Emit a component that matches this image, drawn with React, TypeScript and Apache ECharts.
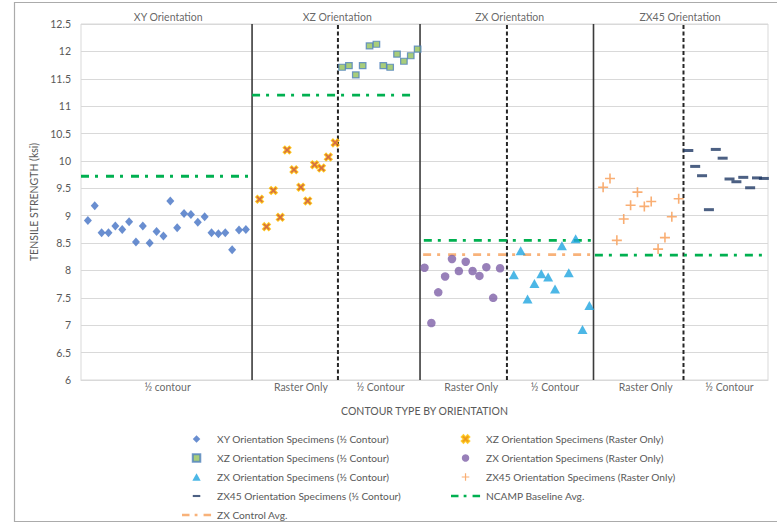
import React, { useEffect, useRef } from "react";
import * as echarts from "echarts";

// ---- data ----
const yMin = 6;
const yMax = 12.5;
const yStep = 0.5;
const xMin = 0;
const xMax = 100;

const xyContour = [8.91, 9.18, 8.69, 8.69, 8.81, 8.75, 8.89, 8.52, 8.81, 8.5, 8.71, 8.63, 9.27, 8.78, 9.04, 9.02, 8.88, 8.98, 8.69, 8.67, 8.69, 8.38, 8.74, 8.75];
const xzRaster = [9.3, 8.8, 9.46, 8.97, 10.2, 9.84, 9.52, 9.27, 9.93, 9.87, 10.07, 10.33];
const xzContour = [11.71, 11.74, 11.57, 11.74, 12.1, 12.13, 11.74, 11.71, 11.95, 11.82, 11.92, 12.04];
const zxRaster = [8.05, 7.04, 7.6, 7.89, 8.21, 7.99, 8.16, 7.99, 7.9, 8.06, 7.5, 8.04];
const zxContour = [7.92, 8.36, 7.48, 7.76, 7.94, 7.88, 7.66, 8.45, 7.96, 8.58, 6.92, 7.36];
const zx45Raster = [9.52, 9.68, 8.55, 8.94, 9.19, 9.43, 9.17, 9.26, 8.39, 8.6, 8.98, 9.31];
const zx45Contour = [10.19, 9.9, 9.73, 9.11, 10.21, 10.05, 9.67, 9.62, 9.7, 9.51, 9.69, 9.68];

// first specimen index of each group on the x scale
const xyStart = 1;
const xzRasterStart = 26;
const xzContourStart = 38;
const zxRasterStart = 50;
const zxContourStart = 63;
const zx45RasterStart = 76;
const zx45ContourStart = 88.4;

// averages: [xFrom, xTo, value]
const ncampSegments = [
  [0, 24.9, 9.72],
  [24.9, 48, 11.2],
  [49.9, 75, 8.55],
  [74.8, 100, 8.28],
];
const zxControlSegment = [49.8, 74.6, 8.29];

const solidDividers = [24.9, 49.35, 74.6];
const dashedDividers = [37.4, 62.0, 87.7];

const sectionTitles = ["XY Orientation", "XZ Orientation", "ZX Orientation", "ZX45 Orientation"];
const sectionTitleX = [12.7, 37.3, 62.4, 87.2];
const contourLabels = ["½ contour", "Raster Only", "½ Contour", "Raster Only", "½ Contour", "Raster Only", "½ Contour"];
const contourLabelX = [12.6, 32.0, 43.6, 56.8, 69.0, 82.2, 94.4];

const names = {
  xy: "XY Orientation Specimens (½ Contour)",
  xzR: "XZ Orientation Specimens (Raster Only)",
  xzC: "XZ Orientation Specimens (½ Contour)",
  zxR: "ZX Orientation Specimens (Raster Only)",
  zxC: "ZX Orientation Specimens (½ Contour)",
  zx45R: "ZX45 Orientation Specimens (Raster Only)",
  zx45C: "ZX45 Orientation Specimens (½ Contour)",
  ncamp: "NCAMP Baseline Avg.",
  ctrl: "ZX Control Avg.",
};

// ---- symbols ----
const DIAMOND = "path://M5,0 L10,5 L5,10 L0,5 Z";
const TRIANGLE = "path://M5,0 L10,9 L0,9 Z";
const SQUARE = "path://M0,0 H10 V10 H0 Z";
const XMARK = "path://M0,2.2 L2.2,0 L5,2.8 L7.8,0 L10,2.2 L7.2,5 L10,7.8 L7.8,10 L5,7.2 L2.2,10 L0,7.8 L2.8,5 Z";
const PLUS = "path://M4.2,0 H5.8 V4.2 H10 V5.8 H5.8 V10 H4.2 V5.8 H0 V4.2 H4.2 Z";
const DASH = "path://M0,0 H10 V3 H0 Z";
const DASH_ICON = "path://M0,0 M10,10 M0,3.6 H10 V6.4 H0 Z";
const DASHDOT_ICON = "path://M0,0 M31,8 M0,2.7 H8 V5.3 H0 Z M13.5,2.7 H16.5 V5.3 H13.5 Z M23,2.7 H31 V5.3 H23 Z";

const FONT = "Lato, 'Open Sans', sans-serif";
const GREEN = "#00B050";
const ORANGE = "#F8B27A";
const DASHDOT = [8, 6, 3, 8];

const seq = (vals: number[], start: number) => vals.map((v, i) => [start + i, v]);

export default function App() {
  const ref = useRef<HTMLDivElement>(null);
  useEffect(() => {
    if (!ref.current) return;
    const chart = echarts.init(ref.current, null, { renderer: "svg" });

    const scatter = (name: string, data: number[][], symbol: string, size: any, itemStyle: any) => ({
      type: "scatter",
      name,
      data,
      symbol,
      symbolSize: size,
      itemStyle,
      z: 5,
      silent: true,
    });

    const series: any[] = [];

    solidDividers.forEach((x) =>
      series.push({
        type: "line",
        data: [[x, yMin], [x, yMax]],
        symbol: "none",
        lineStyle: { color: "#3b3b3b", width: 1.6 },
        silent: true,
        z: 2,
      })
    );
    dashedDividers.forEach((x) =>
      series.push({
        type: "line",
        data: [[x, yMin], [x, yMax]],
        symbol: "none",
        lineStyle: { color: "#262626", width: 2, type: [4, 2.5] },
        silent: true,
        z: 2,
      })
    );

    ncampSegments.forEach((s) =>
      series.push({
        type: "line",
        name: names.ncamp,
        data: [[s[0], s[2]], [s[1], s[2]]],
        symbol: "none",
        lineStyle: { color: GREEN, width: 2.8, type: DASHDOT },
        itemStyle: { color: GREEN },
        silent: true,
        z: 3,
      })
    );
    series.push({
      type: "line",
      name: names.ctrl,
      data: [[zxControlSegment[0], zxControlSegment[2]], [zxControlSegment[1], zxControlSegment[2]]],
      symbol: "none",
      lineStyle: { color: ORANGE, width: 2.8, type: DASHDOT },
      itemStyle: { color: ORANGE },
      silent: true,
      z: 3,
    });

    series.push(scatter(names.xy, seq(xyContour, xyStart), DIAMOND, [8, 9], { color: "#4472C4" }));
    series.push(
      scatter(names.xzR, seq(xzRaster, xzRasterStart), XMARK, 8, {
        color: "#C8461E",
        borderColor: "#FFC000",
        borderWidth: 1.1,
      })
    );
    series.push(
      scatter(names.xzC, seq(xzContour, xzContourStart), SQUARE, [6.5, 6], {
        color: "#92C05A",
        borderColor: "#4F81BD",
        borderWidth: 1.2,
      })
    );
    series.push(scatter(names.zxR, seq(zxRaster, zxRasterStart), "circle", 8.5, { color: "#7E60A8" }));
    series.push(scatter(names.zxC, seq(zxContour, zxContourStart), TRIANGLE, [10, 9], { color: "#1FA5E0" }));
    series.push(scatter(names.zx45R, seq(zx45Raster, zx45RasterStart), PLUS, 10, { color: "#F79A50" }));
    series.push(scatter(names.zx45C, seq(zx45Contour, zx45ContourStart), DASH, [10, 3], { color: "#1F3864" }));

    // section titles above the plot
    series.push({
      type: "scatter",
      data: sectionTitleX.map((x, i) => ({ value: [x, yMax], name: sectionTitles[i] })),
      symbolSize: 1,
      itemStyle: { color: "rgba(0,0,0,0)" },
      clip: false,
      silent: true,
      label: {
        show: true,
        position: "top",
        distance: 1,
        formatter: (p: any) => p.name,
        color: "#404040",
        fontSize: 10.5,
        fontFamily: FONT,
      },
      z: 6,
    });
    // contour type labels below the plot
    series.push({
      type: "scatter",
      data: contourLabelX.map((x, i) => ({ value: [x, yMin], name: contourLabels[i] })),
      symbolSize: 1,
      itemStyle: { color: "rgba(0,0,0,0)" },
      clip: false,
      silent: true,
      label: {
        show: true,
        position: "bottom",
        distance: 1,
        formatter: (p: any) => p.name,
        color: "#404040",
        fontSize: 10.5,
        fontFamily: FONT,
      },
      z: 6,
    });

    const legendCommon = {
      orient: "vertical",
      padding: 0,
      itemWidth: 31,
      itemHeight: 7.5,
      itemGap: 7,
      symbolKeepAspect: true,
      selectedMode: false,
      textStyle: { color: "#595959", fontSize: 10.2, fontFamily: FONT, lineHeight: 12 },
    };

    chart.setOption({
      animation: false,
      backgroundColor: "#ffffff",
      grid: {
        left: 81,
        right: 9,
        top: 24,
        bottom: 144,
        show: true,
        borderColor: "#d9d9d9",
        borderWidth: 1,
      },
      xAxis: {
        type: "value",
        min: xMin,
        max: xMax,
        axisLabel: { show: false },
        axisTick: { show: false },
        splitLine: { show: false },
        axisLine: { show: true, lineStyle: { color: "#d9d9d9" } },
        name: "CONTOUR TYPE BY ORIENTATION",
        nameLocation: "middle",
        nameGap: 25,
        nameTextStyle: { color: "#595959", fontSize: 10.5, fontFamily: FONT },
      },
      yAxis: {
        type: "value",
        min: yMin,
        max: yMax,
        interval: yStep,
        axisLabel: { color: "#595959", fontSize: 10.5, fontFamily: FONT, margin: 10 },
        axisTick: { show: false },
        axisLine: { show: false },
        splitLine: { lineStyle: { color: "#d9d9d9", width: 1 } },
        name: "TENSILE STRENGTH (ksi)",
        nameLocation: "middle",
        nameGap: 39,
        nameTextStyle: { color: "#595959", fontSize: 10.5, fontFamily: FONT },
      },
      legend: [
        {
          ...legendCommon,
          left: 182,
          top: 433,
          data: [
            { name: names.xy },
            { name: names.xzC },
            { name: names.zxC },
            { name: names.zx45C, icon: DASH_ICON },
            { name: names.ctrl, icon: DASHDOT_ICON },
          ],
        },
        {
          ...legendCommon,
          left: 451,
          top: 433,
          data: [
            { name: names.xzR },
            { name: names.zxR },
            { name: names.zx45R },
            { name: names.ncamp, icon: DASHDOT_ICON },
          ],
        },
      ],
      graphic: [
        {
          type: "rect",
          shape: { x: 14.5, y: 2.5, width: 800, height: 519 },
          style: { fill: "none", stroke: "#ababab", lineWidth: 1.2 },
          silent: true,
          z: -10,
        },
      ],
      series,
    });

    return () => chart.dispose();
  }, []);

  return (
    <div
      ref={ref}
      style={{ position: "fixed", left: 0, top: 0, width: 777, height: 524 }}
    />
  );
}
